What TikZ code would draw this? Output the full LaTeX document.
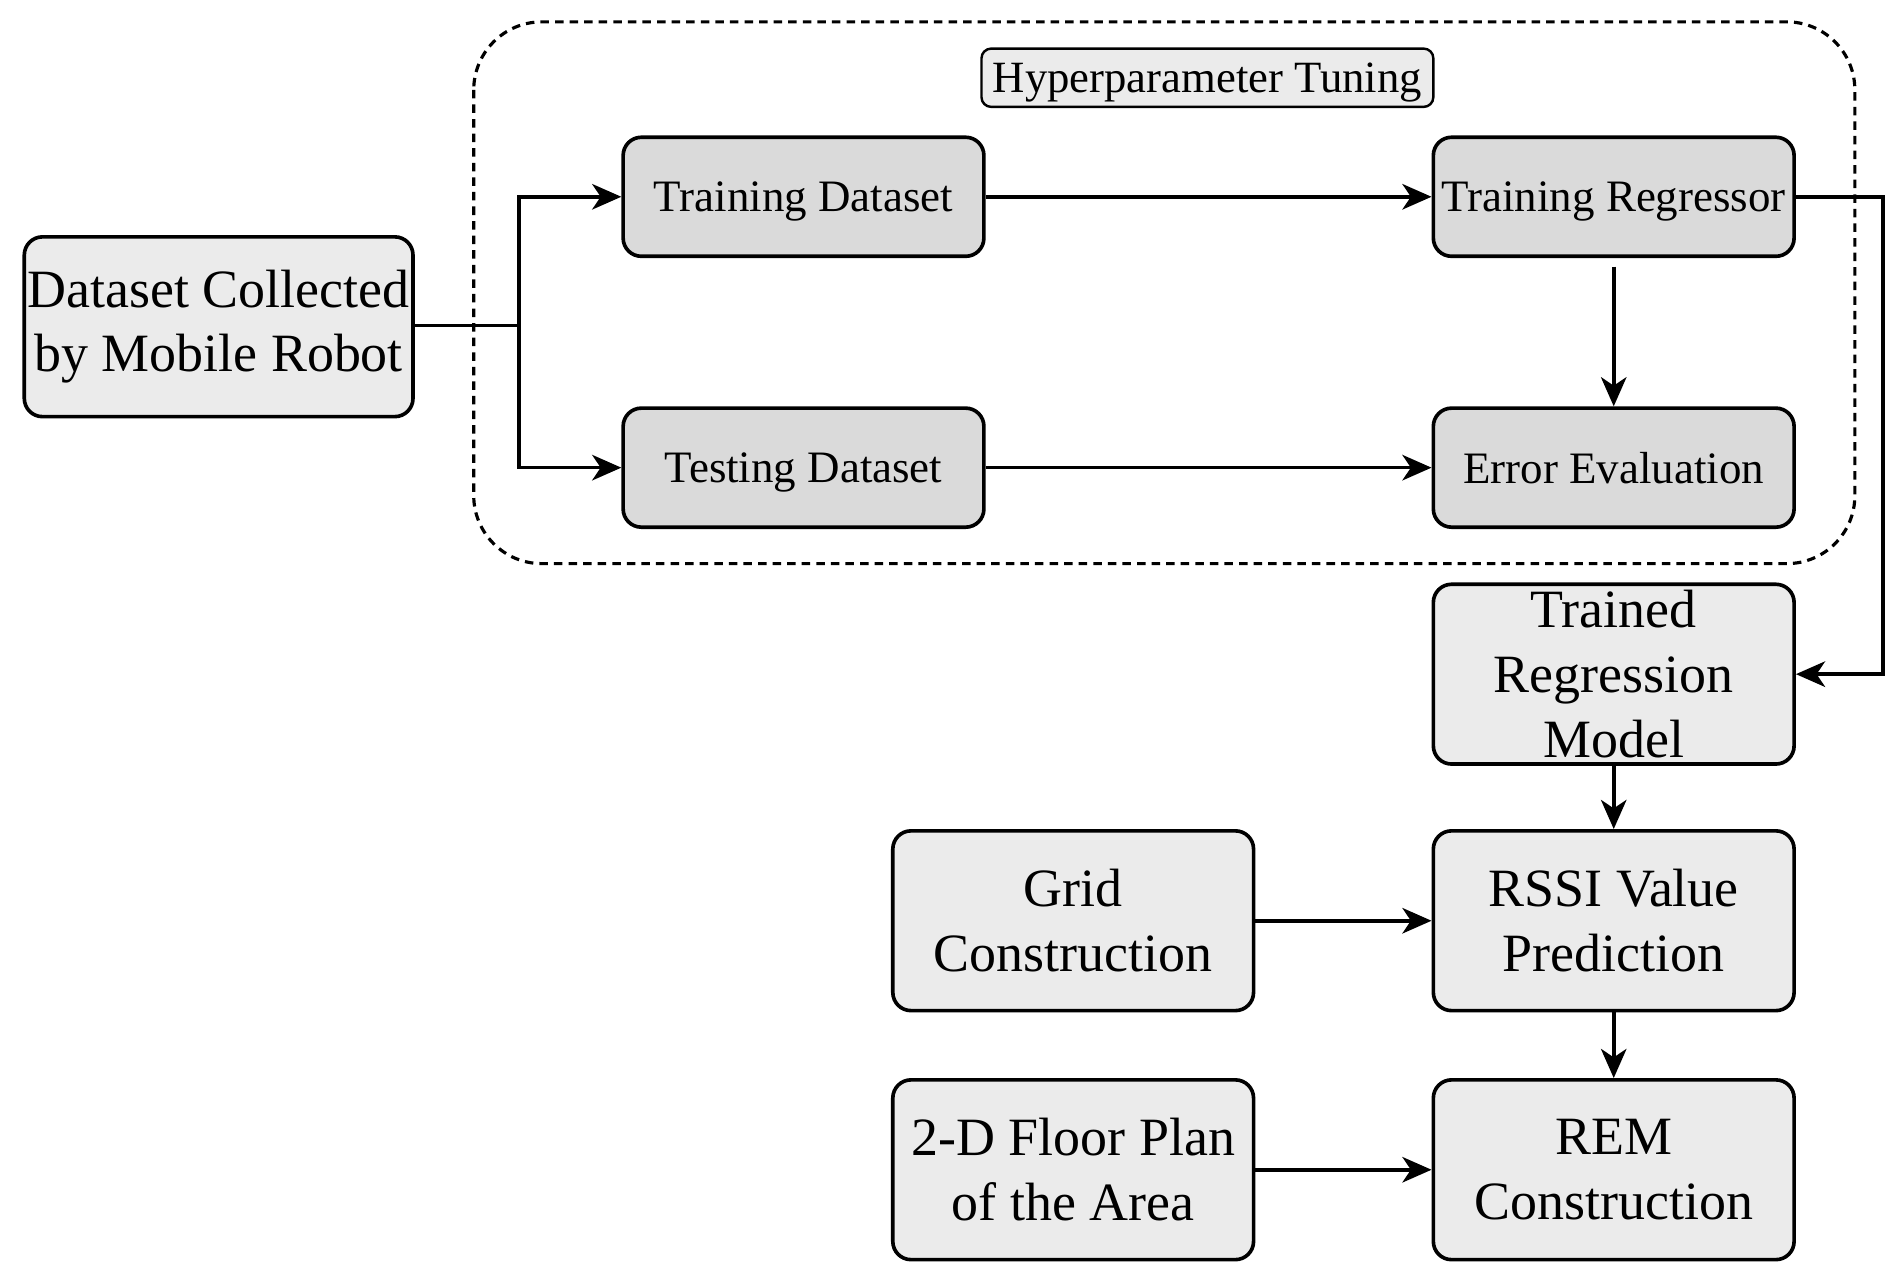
\documentclass[tikz,border=0pt]{standalone}
\usepackage{fontspec}
\setmainfont{Liberation Serif}
\usetikzlibrary{arrows.meta}
\definecolor{lightfill}{HTML}{EBEBEB}
\definecolor{darkfill}{HTML}{DADADA}
\begin{document}
\begin{tikzpicture}[x=0.5pt,y=-0.5pt,
 box/.style={draw=black,line width=1.5pt,rounded corners=7.5pt,fill=lightfill,align=center,inner sep=0pt,minimum width=148.5pt,minimum height=74pt,font=\fontsize{22.2}{26.6}\selectfont},
 inbox/.style={box,fill=darkfill,minimum height=49pt,text depth=0pt,font=\fontsize{18.5}{22}\selectfont},
 arr/.style={line width=1.5pt,-{Stealth[length=12pt,width=10.5pt,inset=3.5pt]}},
 conn/.style={line width=1.5pt},
 grpbox/.style={draw,line width=1.3pt,rounded corners=28pt,dash pattern=on 3.5pt off 2.5pt},
 tagbox/.style={draw,line width=1pt,rounded corners=4pt,fill=lightfill,minimum width=186pt,minimum height=24pt,inner sep=0pt,text depth=0pt,font=\fontsize{18.4}{21}\selectfont}]
\useasboundingbox (0,0) rectangle (1565,1054);
\draw[grpbox] (390,18) rectangle (1527,464);
\node[tagbox] (hp) at (994,64) {Hyperparameter Tuning};
\node[box,minimum width=160pt] (ds) at (180,269) {Dataset Collected\\by Mobile Robot};
\node[inbox] (td) at (661.5,162) {Training Dataset};
\node[inbox] (tr) at (1328.5,162) {Training Regressor};
\node[inbox] (te) at (661.5,385) {Testing Dataset};
\node[inbox] (ee) at (1328.5,385) {Error Evaluation};
\node[box] (tm) at (1328.5,555) {Trained\\Regression\\Model};
\node[box] (gc) at (883.5,758) {Grid\\Construction};
\node[box] (rssi) at (1328.5,758) {RSSI Value\\Prediction};
\node[box] (fp) at (883.5,963) {2-D Floor Plan\\of the Area};
\node[box] (rem) at (1328.5,963) {REM\\Construction};
\coordinate (split) at (427,268);
\coordinate (loop) at (1550,162);
\draw[conn] (ds.east |- split) -- (split);
\draw[arr] (split) |- (td.west);
\draw[arr] (split) |- (te.west);
\draw[arr] (td) -- (tr);
\draw[arr] (te) -- (ee);
\draw[arr,shorten <=3.5pt] (tr) -- (ee);
\draw[arr] (tr.east) -- (loop) |- (tm.east);
\draw[arr] (tm) -- (rssi);
\draw[arr] (gc) -- (rssi);
\draw[arr] (rssi) -- (rem);
\draw[arr] (fp) -- (rem);
\end{tikzpicture}
\end{document}
